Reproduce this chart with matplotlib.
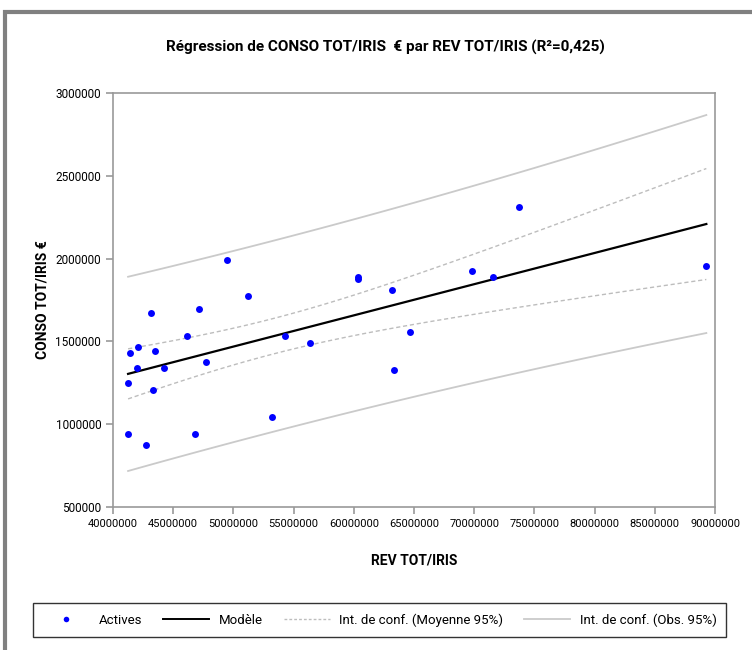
import numpy as np
import matplotlib
matplotlib.use("Agg")
import matplotlib.pyplot as plt
from matplotlib import font_manager
from matplotlib.lines import Line2D
from matplotlib.patches import Rectangle

rev_tot = [41.39, 42.08, 43.13, 47.14, 46.12, 43.46, 41.97, 44.26, 47.72, 41.25,
           43.32, 41.25, 42.77, 46.81, 53.23, 54.28, 56.36, 63.37, 64.64, 49.44,
           51.18, 60.37, 60.37, 63.14, 69.84, 71.55, 73.74, 89.28]
conso_tot = [1.432, 1.468, 1.671, 1.696, 1.534, 1.444, 1.339, 1.339, 1.376, 1.249,
             1.205, 0.941, 0.873, 0.941, 1.043, 1.534, 1.488, 1.329, 1.557, 1.992,
             1.774, 1.890, 1.877, 1.810, 1.924, 1.891, 2.312, 1.958]
x_ticks = [40000000, 45000000, 50000000, 55000000, 60000000, 65000000,
           70000000, 75000000, 80000000, 85000000, 90000000]
y_ticks = [500000, 1000000, 1500000, 2000000, 2500000, 3000000]
legend_labels = ["Actives", "Modèle", "Int. de conf. (Moyenne 95%)", "Int. de conf. (Obs. 95%)"]
title = "Régression de CONSO TOT/IRIS  € par REV TOT/IRIS (R²=0,425)"

available = {f.name for f in font_manager.fontManager.ttflist}
family = "Liberation Sans Narrow" if "Liberation Sans Narrow" in available else "Roboto"
plt.rcParams["font.family"] = [family, "DejaVu Sans"]

x = np.array(rev_tot) * 1e6
y = np.array(conso_tot) * 1e6

# simple OLS with 95% intervals
n = len(x)
b, a = np.polyfit(x, y, 1)
resid = y - (a + b * x)
s = np.sqrt((resid ** 2).sum() / (n - 2))
t = 2.056  # t(0.975, 26)
xs = np.linspace(x.min(), x.max(), 120)
fit = a + b * xs
sxx = ((x - x.mean()) ** 2).sum()
se_mean = s * np.sqrt(1 / n + (xs - x.mean()) ** 2 / sxx)
se_obs = s * np.sqrt(1 + 1 / n + (xs - x.mean()) ** 2 / sxx)

fig = plt.figure(figsize=(7.52, 6.5), dpi=100)
ax = fig.add_axes([0.1503, 0.22, 0.8005, 0.6369])

band_col = "#cacaca"
mean_col = "#bdbdbd"
ax.plot(xs, fit + t * se_obs, color=band_col, lw=1.3, zorder=2)
ax.plot(xs, fit - t * se_obs, color=band_col, lw=1.3, zorder=2)
ax.plot(xs, fit + t * se_mean, color=mean_col, lw=1.0, ls=(0, (3, 2)), zorder=2)
ax.plot(xs, fit - t * se_mean, color=mean_col, lw=1.0, ls=(0, (3, 2)), zorder=2)
ax.plot(xs, fit, color="black", lw=1.6, zorder=3)
ax.plot(x, y, "o", color="#0000ff", ms=5, mec="none", zorder=4)

ax.set_xlim(40000000, 90000000)
ax.set_ylim(500000, 3000000)
ax.set_xticks(x_ticks)
ax.set_yticks(y_ticks)
ax.set_xticklabels([str(v) for v in x_ticks], fontsize=8)
ax.set_yticklabels([str(v) for v in y_ticks], fontsize=8.5)
for sp in ax.spines.values():
    sp.set_color("#999999")
    sp.set_linewidth(1.2)
ax.tick_params(color="#999999", length=5, width=1.2, direction="out")
ax.set_xlabel("REV TOT/IRIS", fontsize=10, fontweight="bold", labelpad=18)
ax.set_ylabel("CONSO TOT/IRIS €", fontsize=10, fontweight="bold", labelpad=4)

fig.text(0.513, 0.927, title, ha="center", va="center", fontsize=11, fontweight="bold")

handles = [
    Line2D([], [], ls="none", marker="o", color="#0000ff", ms=4, mec="none"),
    Line2D([], [], color="black", lw=1.4),
    Line2D([], [], color=mean_col, lw=1.0, ls=(0, (2, 1.5))),
    Line2D([], [], color=band_col, lw=1.3),
]
leg = fig.legend(handles, legend_labels, loc="center", bbox_to_anchor=(0.505, 0.046),
                 ncol=4, frameon=True, fancybox=False, fontsize=9.5, handlelength=3.5,
                 columnspacing=1.6, borderpad=0.75, handletextpad=0.7)
leg.get_frame().set_edgecolor("black")
leg.get_frame().set_linewidth(1.0)

# outer frame of the chart sheet
fig.add_artist(Rectangle((5 / 752, -0.1), 2, 1.1 - 12 / 650, transform=fig.transFigure,
                         fill=False, edgecolor="#808080", lw=3))

fig.savefig("out.png", dpi=100)
